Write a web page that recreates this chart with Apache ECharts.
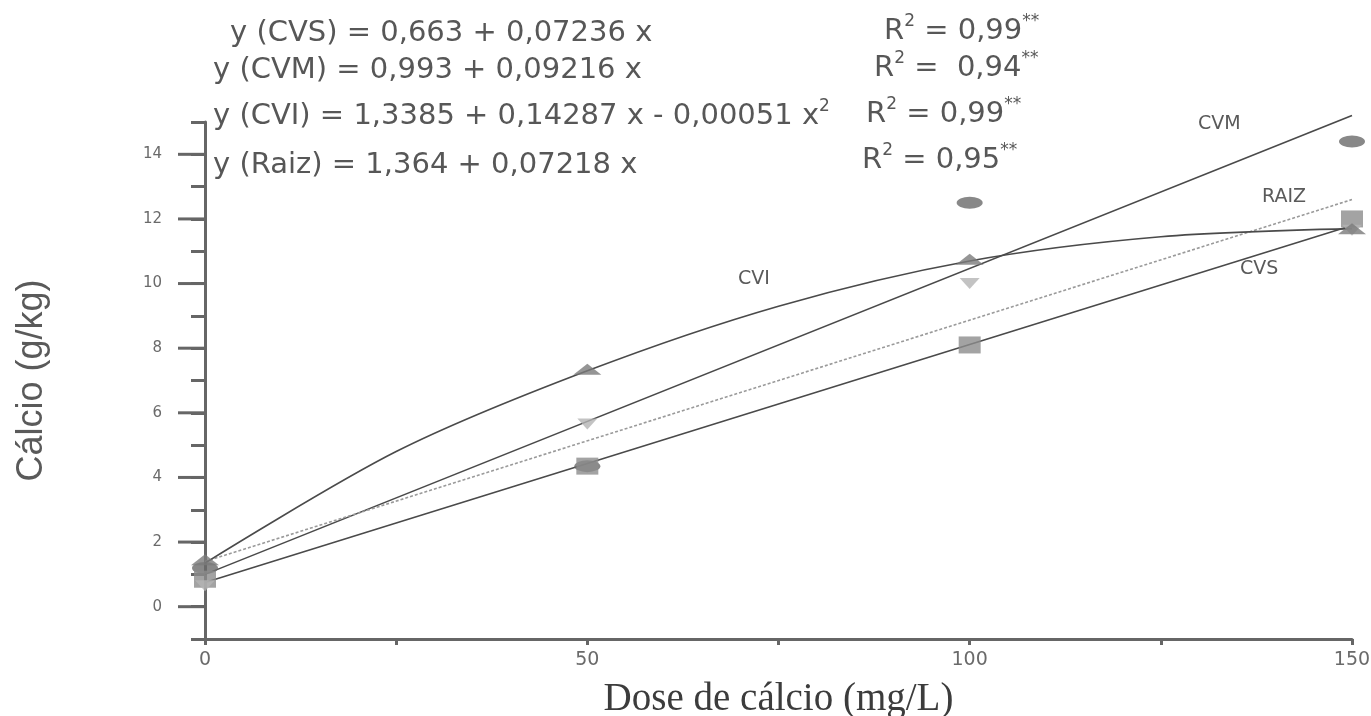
<!DOCTYPE html>
<html>
<head>
<meta charset="utf-8">
<script src="https://cdn.jsdelivr.net/npm/echarts@6/dist/echarts.min.js"></script>
<style>html,body{margin:0;padding:0;background:#fff;}#c{width:1371px;height:716px;}</style>
</head>
<body>
<div id="c"></div>
<script>
// ---- data ----
const doses = [0, 50, 100, 150];
const obsCVS  = [0.85, 4.35, 8.1, 12.0];
const obsCVM  = [1.2, 4.35, 12.5, 14.4];
const obsCVI  = [1.45, 7.35, 10.75, 11.7];
const obsRaiz = [0.65, 5.65, 10.0, 11.65];

const fitLinX = [0, 150];
const fitCVS  = [0.75, 11.8];
const fitCVM  = [1.0, 15.2];
const fitRaiz = [1.4, 12.6];
const fitCVIx = [0, 25, 50, 75, 100, 125, 150];
const fitCVI  = [1.35, 4.8, 7.3, 9.3, 10.7, 11.45, 11.7];

const majorYTicks = [0, 2, 4, 6, 8, 10, 12, 14];
const xLabelValues = [0, 50, 100, 150];

const eqTexts = [
  '{n|y (CVS) = 0,663 + 0,07236 x}',
  '{n|y (CVM) = 0,993 + 0,09216 x}',
  '{n|y (CVI) = 1,3385 + 0,14287 x - 0,00051 x}{s|2}',
  '{n|y (Raiz) = 1,364 + 0,07218 x}'
];
const r2Texts = [
  '{n|R}{s|2}{n| = 0,99}{s|**}',
  '{n|R}{s|2}{n| =  0,94}{s|**}',
  '{n|R}{s|2}{n| = 0,99}{s|**}',
  '{n|R}{s|2}{n| = 0,95}{s|**}'
];
const seriesNames = ['CVM', 'RAIZ', 'CVI', 'CVS'];

// ---- build ----
const pairs = (xs, ys) => xs.map((x, i) => [x, ys[i]]);
const TXT = '#575757';
const richDef = {
  n: {fontFamily: 'DejaVu Sans', fontSize: 29, fill: TXT, lineHeight: 36},
  s: {fontFamily: 'DejaVu Sans', fontSize: 17, fill: TXT, verticalAlign: 'top', lineHeight: 36}
};
const eqPos = [[230, 33], [213, 70], [213, 116], [213, 165]];
const r2Pos = [[884, 31], [874, 68], [866, 114], [862, 160]];
const namePos = [[1198, 124], [1262, 197], [738, 279], [1240, 269]];

const graphic = [];
eqTexts.forEach((t, i) => graphic.push({type: 'text', x: eqPos[i][0], y: eqPos[i][1],
  style: {text: t, rich: richDef, verticalAlign: 'middle', align: 'left'}}));
r2Texts.forEach((t, i) => graphic.push({type: 'text', x: r2Pos[i][0], y: r2Pos[i][1],
  style: {text: t, rich: richDef, verticalAlign: 'middle', align: 'left'}}));
seriesNames.forEach((t, i) => graphic.push({type: 'text', x: namePos[i][0], y: namePos[i][1],
  style: {text: t, fontFamily: 'DejaVu Sans', fontSize: 19, fill: '#5a5a5a', verticalAlign: 'middle', align: 'left'}}));

const lineCol = '#4a4a4a';
const option = {
  backgroundColor: '#fff',
  animation: false,
  grid: {left: 205, right: 19, top: 122, bottom: 77, outerBoundsMode: 'none', containLabel: false},
  graphic: graphic,
  xAxis: {
    type: 'value', min: 0, max: 150, interval: 25,
    name: 'Dose de cálcio (mg/L)', nameLocation: 'middle', nameGap: 41,
    nameTextStyle: {fontFamily: 'Liberation Serif', fontSize: 39, color: '#3c3c3c'},
    axisLine: {onZero: false, lineStyle: {color: '#666', width: 3}},
    axisTick: {length: 6, lineStyle: {color: '#666', width: 3}},
    axisLabel: {margin: 12, fontFamily: 'DejaVu Sans', fontSize: 19, color: '#6a6a6a',
      formatter: v => xLabelValues.indexOf(v) >= 0 ? String(v) : ''},
    splitLine: {show: false}
  },
  yAxis: {
    type: 'value', min: -1, max: 15, interval: 1,
    name: 'Cálcio (g/kg)', nameLocation: 'middle', nameGap: 155, nameRotate: 90,
    nameTextStyle: {fontFamily: 'Liberation Sans', fontSize: 36, color: '#5a5a5a'},
    axisLine: {onZero: false, lineStyle: {color: '#666', width: 3}},
    axisTick: {length: 14, lineStyle: {color: '#666', width: 3}},
    axisLabel: {margin: 43, fontFamily: 'DejaVu Sans', fontSize: 15, color: '#6a6a6a',
      formatter: v => majorYTicks.indexOf(v) >= 0 ? String(v) : ''},
    splitLine: {show: false}
  },
  series: [
    {type: 'custom', silent: true, clip: false, z: 1,
      data: majorYTicks.map(v => [0, v]),
      renderItem: (params, api) => {
        const p = api.coord([api.value(0), api.value(1)]);
        return {type: 'line', shape: {x1: p[0] - 27, y1: p[1], x2: p[0], y2: p[1]},
          style: {stroke: '#666', lineWidth: 3}};
      }},
    {name: 'CVS fit', type: 'line', data: pairs(fitLinX, fitCVS), showSymbol: false, clip: false,
      lineStyle: {color: lineCol, width: 1.6}, z: 2},
    {name: 'CVM fit', type: 'line', data: pairs(fitLinX, fitCVM), showSymbol: false, clip: false,
      lineStyle: {color: lineCol, width: 1.6}, z: 2},
    {name: 'Raiz fit', type: 'line', data: pairs(fitLinX, fitRaiz), showSymbol: false, clip: false,
      lineStyle: {color: '#9a9a9a', width: 1.6, type: [3, 2]}, z: 2},
    {name: 'CVI fit', type: 'line', data: pairs(fitCVIx, fitCVI), showSymbol: false, clip: false, smooth: 0.3,
      lineStyle: {color: lineCol, width: 1.6}, z: 2},
    {name: 'CVM', type: 'scatter', data: pairs(doses, obsCVM), symbol: 'circle', symbolSize: [26, 12],
      itemStyle: {color: '#6a6a6a'}, z: 3},
    {name: 'CVS', type: 'scatter', data: pairs(doses, obsCVS), symbol: 'rect', symbolSize: [22, 17],
      itemStyle: {color: '#8c8c8c'}, z: 4},
    {name: 'Raiz', type: 'scatter', data: pairs(doses, obsRaiz), symbol: 'triangle', symbolRotate: 180,
      symbolSize: [20, 11], itemStyle: {color: '#b4b4b4'}, z: 4},
    {name: 'CVI', type: 'scatter', data: pairs(doses, obsCVI), symbol: 'triangle', symbolSize: [28, 11],
      itemStyle: {color: '#7a7a7a'}, z: 5}
  ]
};
const chart = echarts.init(document.getElementById('c'), null, {renderer: 'canvas'});
chart.setOption(option);
</script>
</body>
</html>
